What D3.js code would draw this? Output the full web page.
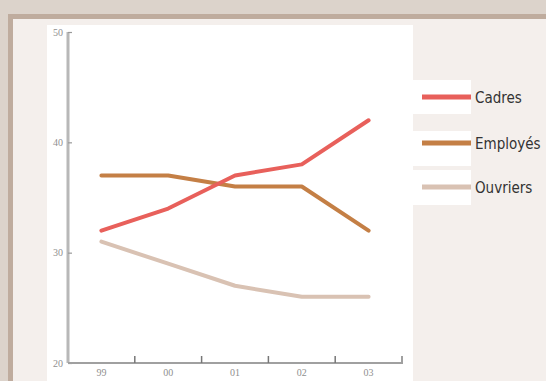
<!DOCTYPE html>
<html>
<head>
<meta charset="utf-8">
<script src="https://cdn.jsdelivr.net/npm/d3@7"></script>
<style>
  html, body { margin: 0; padding: 0; background: #dcd3cb; }
  svg { display: block; }
</style>
</head>
<body>
<svg id="chart" width="546" height="381"></svg>
<script>
// Share of each occupational group, by year
const years = ["99", "00", "01", "02", "03"];
const cadres = [32, 34, 37, 38, 42];
const employes = [37, 37, 36, 36, 32];
const ouvriers = [31, 29, 27, 26, 26];
const seriesNames = ["Cadres", "Employés", "Ouvriers"];
const seriesColors = ["#e8605b", "#c47f45", "#d9c2b3"];
const yTicks = [20, 30, 40, 50];

const series = [cadres, employes, ouvriers].map((values, i) => ({
  name: seriesNames[i],
  color: seriesColors[i],
  values
}));

const svg = d3.select("#chart");

// frame: outer taupe, darker border strip, light inner panel, white plot card
svg.append("rect").attr("x", 0).attr("y", 0).attr("width", 546).attr("height", 381).attr("fill", "#dcd3cb");
svg.append("rect").attr("x", 8).attr("y", 14).attr("width", 538).attr("height", 367).attr("fill", "#bfac9e");
svg.append("rect").attr("x", 13).attr("y", 19).attr("width", 533).attr("height", 362).attr("fill", "#f4efec");
svg.append("rect").attr("x", 47).attr("y", 25).attr("width", 366).attr("height", 356).attr("fill", "#ffffff");

const x = d3.scaleBand().domain(years).range([68, 402]);
const y = d3.scaleLinear().domain([20, 50]).range([363, 32]);

const tickFont = "'Liberation Serif', 'DejaVu Serif', serif";

// y axis
const yAxis = svg.append("g")
  .attr("transform", `translate(${x.range()[0]},0)`)
  .call(d3.axisRight(y).tickValues(yTicks).tickSize(4).tickFormat(d3.format("d")));
yAxis.select(".domain").attr("stroke", "#b8b8b8").attr("stroke-width", 3)
  .attr("d", `M0,${y(20)}V${y(50)}`);
yAxis.selectAll(".tick line").attr("stroke", "#999999").attr("stroke-width", 1.2);
yAxis.selectAll(".tick text")
  .attr("x", -5).attr("text-anchor", "end")
  .attr("font-family", tickFont)
  .attr("font-size", 10).attr("fill", "#8f8f8f");

// x axis with upward ticks at band boundaries
const xAxisG = svg.append("g");
xAxisG.append("path")
  .attr("d", `M${x.range()[0]},${y(20)}H${x.range()[1]}V${y(20) - 7}`)
  .attr("fill", "none").attr("stroke", "#a0a0a0").attr("stroke-width", 2);
const boundaries = years.slice(1).map(d => x(d));
xAxisG.selectAll("line.tick")
  .data(boundaries)
  .join("line")
  .attr("class", "tick")
  .attr("x1", d => d).attr("x2", d => d)
  .attr("y1", y(20)).attr("y2", y(20) - 7)
  .attr("stroke", "#777777").attr("stroke-width", 1.5);
xAxisG.selectAll("text")
  .data(years)
  .join("text")
  .attr("x", d => x(d) + x.bandwidth() / 2)
  .attr("y", y(20) + 13)
  .attr("text-anchor", "middle")
  .attr("font-family", tickFont)
  .attr("font-size", 10).attr("fill", "#8f8f8f")
  .text(d => d);

// lines
const line = d3.line()
  .x((d, i) => x(years[i]) + x.bandwidth() / 2)
  .y(d => y(d));

svg.append("g").selectAll("path")
  .data(series.slice().reverse())
  .join("path")
  .attr("d", d => line(d.values))
  .attr("fill", "none")
  .attr("stroke", d => d.color)
  .attr("stroke-width", 4)
  .attr("stroke-linecap", "round")
  .attr("stroke-linejoin", "round");

// legend: white swatch boxes with a thick stroke sample, label beside
const legendBoxes = [[80, 34], [131, 35], [170, 35]];
const legendY = [97, 143, 187];
const legend = svg.append("g");
series.forEach((s, i) => {
  legend.append("rect")
    .attr("x", 413).attr("y", legendBoxes[i][0])
    .attr("width", 58).attr("height", legendBoxes[i][1])
    .attr("fill", "#ffffff");
  legend.append("line")
    .attr("x1", 422).attr("x2", 471)
    .attr("y1", legendY[i]).attr("y2", legendY[i])
    .attr("stroke", s.color).attr("stroke-width", 5);
  legend.append("text")
    .attr("x", 475).attr("y", legendY[i] + 6)
    .attr("font-family", "'DejaVu Sans Condensed', 'DejaVu Sans', sans-serif")
    .attr("font-stretch", "condensed")
    .attr("font-size", 15).attr("fill", "#333333")
    .text(s.name);
});
</script>
</body>
</html>
